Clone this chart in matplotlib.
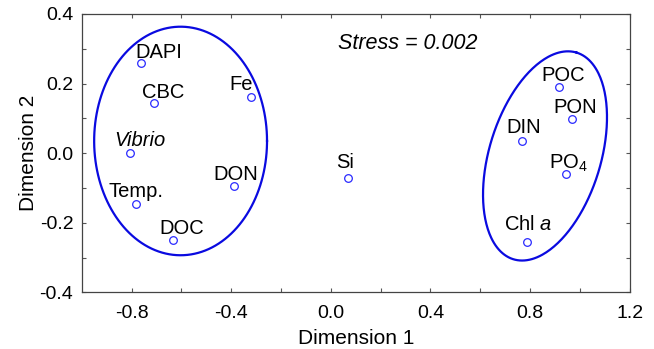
import matplotlib.pyplot as plt
import numpy as np

plt.rcParams['font.family'] = ['Liberation Sans', 'DejaVu Sans']
plt.rcParams['mathtext.fontset'] = 'custom'
plt.rcParams['mathtext.rm'] = 'Liberation Sans'
plt.rcParams['mathtext.it'] = 'Liberation Sans:italic'

# MDS coordinates
names = ['DAPI', 'CBC', 'Fe', 'Vibrio', 'DON', 'Temp.', 'DOC', 'Si',
         'POC', 'PON', 'DIN', 'PO4', 'Chl a']
dim1 = [-0.76, -0.709, -0.32, -0.805, -0.39, -0.781, -0.635, 0.069,
        0.916, 0.968, 0.767, 0.943, 0.788]
dim2 = [0.259, 0.145, 0.162, 0.0, -0.093, -0.146, -0.25, -0.072,
        0.189, 0.098, 0.034, -0.061, -0.256]
shown = ['DAPI', 'CBC', 'Fe', 'Vibrio', 'DON', 'Temp.', 'DOC', 'Si',
         'POC', 'PON', 'DIN', r'PO$_\mathregular{4}$', r'Chl $\mathit{a}$']
# label offsets in pixels (dx, dy from point)
offsets = [(17, 5), (9, 5), (-10, 7), (10, 7), (2, 6), (0, 7), (9, 6), (-3, 10),
           (4, 6), (3, 6), (2, 8), (3, 6), (1, 12)]

# group ellipses: center, then two half axis vectors (data units)
left_c, left_u, left_v = (-0.603, 0.035), (0.347, 0.0), (0.0, 0.3285)
right_c, right_u, right_v = (0.86, -0.008), (0.127, 0.297), (0.214, -0.047)

fig = plt.figure(figsize=(6.54, 3.49), dpi=100)
ax = fig.add_axes([81.7 / 654, (349 - 292.3) / 349, 548 / 654, (292.3 - 14) / 349])

t = np.linspace(0, 2 * np.pi, 300)
for c, u, v in [(left_c, left_u, left_v), (right_c, right_u, right_v)]:
    ex = c[0] + u[0] * np.cos(t) + v[0] * np.sin(t)
    ey = c[1] + u[1] * np.cos(t) + v[1] * np.sin(t)
    ax.plot(ex, ey, color='#0a0ae0', lw=1.6)

ax.plot(dim1, dim2, 'o', ms=5.5, mfc='none', mec='#2a2aff', mew=0.9, ls='none')

for i in range(len(names)):
    style = 'italic' if names[i] == 'Vibrio' else 'normal'
    ax.annotate(shown[i], (dim1[i], dim2[i]), xytext=offsets[i], textcoords='offset pixels',
                ha='center', va='baseline', fontsize=14.5, style=style)

ax.text(0.028, 0.315, 'Stress = 0.002', style='italic', fontsize=15.5, va='center')

ax.set_xlim(-1.0, 1.2)
ax.set_ylim(-0.4, 0.4)
ax.set_xticks([-0.8, -0.4, 0.0, 0.4, 0.8, 1.2])
ax.set_xticks(np.arange(-0.8, 1.21, 0.2), minor=True)
ax.set_yticks([-0.4, -0.2, 0.0, 0.2, 0.4])
ax.set_yticks(np.arange(-0.4, 0.41, 0.1), minor=True)
ax.set_xticklabels(['-0.8', '-0.4', '0.0', '0.4', '0.8', '1.2'])
ax.set_yticklabels(['-0.4', '-0.2', '0.0', '0.2', '0.4'])
ax.tick_params(which='both', direction='in', top=True, right=True, length=3, width=0.8,
               labelsize=14, colors='#555555', labelcolor='black')
ax.tick_params(axis='x', pad=9)
ax.tick_params(axis='y', pad=6)
for s in ax.spines.values():
    s.set_color('#444444')
    s.set_linewidth(0.9)

ax.set_xlabel('Dimension 1', fontsize=15, labelpad=5)
ax.set_ylabel('Dimension 2', fontsize=15, labelpad=1)

fig.savefig('out.png', dpi=100)
